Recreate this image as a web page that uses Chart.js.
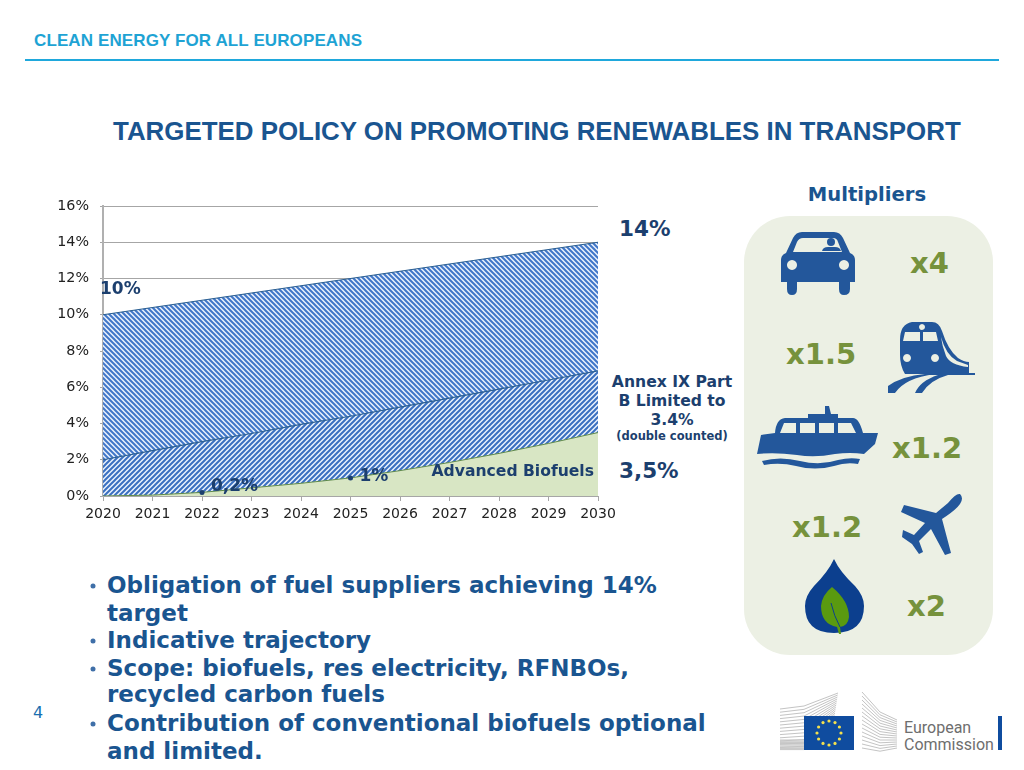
<!DOCTYPE html>
<html>
<head>
<meta charset="utf-8">
<script src="https://cdn.jsdelivr.net/npm/chart.js@4"></script>
<style>
html,body{margin:0;padding:0;background:#fff;width:1024px;height:770px;overflow:hidden}
#wrap{position:relative;width:1024px;height:770px}
canvas{position:absolute;left:0;top:0}
svg{position:absolute;left:0;top:0}
.d{font-family:"DejaVu Sans",sans-serif;font-weight:700}
.l{font-family:"Liberation Sans",sans-serif;font-weight:700}
</style>
</head>
<body>
<div id="wrap">
<svg id="back" width="1024" height="770" viewBox="0 0 1024 770">
  <rect x="25" y="59" width="974" height="2" fill="#1fa8dc"/>
  <text class="l" x="34" y="46" font-size="17" fill="#1ea3d4" textLength="328" lengthAdjust="spacing">CLEAN ENERGY FOR ALL EUROPEANS</text>
  <text class="l" x="113" y="140" font-size="25.9" fill="#1a5590">TARGETED POLICY ON PROMOTING RENEWABLES IN TRANSPORT</text>
  <text class="d" x="867" y="201" font-size="19.6" fill="#1a5590" text-anchor="middle">Multipliers</text>
  <rect x="744" y="216" width="249" height="439" rx="46" fill="#ecf0e4"/>

  <!-- car -->
  <g fill="#23579b">
    <path fill-rule="evenodd" d="M802,232 H834 Q840,232 843,238 L850,253 Q855,255 855,260 V282 H850 V289 Q850,295 844,295 Q839,295 839,289 V282 H797 V289 Q797,295 792,295 Q787,295 787,289 V282 H781 V260 Q781,255 786,253 L793,238 Q796,232 802,232 Z M803,238 Q799,238 797,242 L793,252 H842 L838,242 Q837,238 833,238 Z M792,260 a5,5 0 1,0 0.01,0 Z M844,260 a5,5 0 1,0 0.01,0 Z"/>
    <circle cx="831" cy="242" r="4"/>
    <path d="M822,251 Q823,247 828,247 H835 Q840,247 841,251 Z"/>
  </g>
  <!-- train -->
  <g fill="#23579b">
    <path fill-rule="evenodd" d="M912,322 H932 Q939,322 942,331 Q948,350 958,358 Q964,362 969,362 V374 H905 Q900,366 900,355 V340 Q900,324 912,322 Z M905,332 L903,341 H920 V332 Z M923,332 V341 H938 L936,332 Z M922,324 a3,3 0 1,0 .01,0 Z M907,354 a4,4 0 1,0 .01,0 Z M935,354 a4,4 0 1,0 .01,0 Z M941,337 Q946,355 957,361 L968,365 V367 Q950,365 946,356 Q942,346 941,337 Z"/>
    <rect x="927" y="373" width="48" height="2"/>
    <path d="M888,393 V386 Q902,376 925,374 L935,374 Q905,378 895,393 Z"/>
    <path d="M915,393 Q920,381 938,375 L948,375 Q930,380 922,393 Z"/>
  </g>
  <!-- ship -->
  <g fill="#23579b">
    <path fill-rule="evenodd" d="M825,406 L829,406 L831,414 H838 V418 H853 Q859,418 863,433 H878 L875,444 L864,454 Q850,452 835,454 Q815,458 797,455 Q775,452 757,454 L761,435 L775,433 Q776,419 785,418 H808 V414 H825 Z M784,423 L780,433 H796 V423 Z M800,423 V433 H815 V423 Z M819,423 V433 H834 V423 Z M838,423 V433 H856 L851,423 Z"/>
    <path d="M762,461 Q780,456 800,461 Q820,466 838,460 Q850,457 860,459 L858,464 Q846,462 834,466 Q815,471 796,466 Q780,462 764,465 Z"/>
  </g>
  <!-- plane -->
  <path fill="#23579b" d="M960,494 Q964,498 960,504 Q956,510 942,519 L951,553 L945,555 L931,529 L919,541 L923,552 L919,554 L912,544 L902,537 L903,530 L914,535 L925,523 L901,512 L904,505 L936,513 L948,503 Q956,493 960,494 Z"/>
  <!-- drop -->
  <path fill="#0c3f8e" d="M834,559 Q840,572 855,586 Q864,596 864,606 Q864,633 834,633 Q805,633 805,606 Q805,596 814,586 Q828,572 834,559 Z"/>
  <path fill="#5a9a10" d="M832,587 Q849,601 849,617 Q848,626 840,627 L841,634 L839,634 L837,627 Q821,624 821,606 Q822,595 832,587 Z"/>
  <path stroke="#0c3f8e" stroke-width="1" fill="none" d="M831,603 Q834,616 840,627"/>

  <!-- logo -->
  <g id="logo"></g>
  <rect x="804" y="716" width="50" height="34" fill="#0f4c9f"/>
  <g id="stars"></g>
  <text x="904" y="733" font-family="Roboto,sans-serif" font-size="16" fill="#6e6e6e">European</text>
  <text x="904" y="750" font-family="Roboto,sans-serif" font-size="16" fill="#6e6e6e">Commission</text>
  <rect x="998" y="716" width="4" height="34" fill="#0f4c9f"/>

  <!-- chart side text -->
  <g class="d" fill="#1c3f6e">
    <text x="619" y="236" font-size="21.5">14%</text>
    <text x="619" y="478" font-size="21.5">3,5%</text>
    <text x="672" y="387" font-size="15.6" text-anchor="middle">Annex IX Part</text>
    <text x="672" y="406" font-size="15.6" text-anchor="middle">B Limited to</text>
    <text x="672" y="425" font-size="15.6" text-anchor="middle">3.4%</text>
    <text x="672" y="440" font-size="11.5" text-anchor="middle">(double counted)</text>
  </g>

  <!-- multipliers -->
  <g class="d" fill="#76923c" font-size="29">
    <text x="910" y="273">x4</text>
    <text x="786" y="364">x1.5</text>
    <text x="892" y="458">x1.2</text>
    <text x="792" y="537">x1.2</text>
    <text x="907" y="616">x2</text>
  </g>

  <!-- bullets -->
  <g class="d" fill="#1a5590" font-size="23">
    <text x="107" y="593">Obligation of fuel suppliers achieving 14%</text>
    <text x="107" y="621">target</text>
    <text x="107" y="648">Indicative trajectory</text>
    <text x="107" y="676">Scope: biofuels, res electricity, RFNBOs,</text>
    <text x="107" y="702">recycled carbon fuels</text>
    <text x="107" y="731">Contribution of conventional biofuels optional</text>
    <text x="107" y="759">and limited.</text>
  </g>
  <g fill="#3f6fa8">
    <circle cx="93" cy="586" r="2.5"/><circle cx="93" cy="641" r="2.5"/><circle cx="93" cy="669" r="2.5"/><circle cx="93" cy="724" r="2.5"/>
  </g>
  <text x="33" y="718" font-family="'DejaVu Sans',sans-serif" font-size="16" fill="#1a6fb0">4</text>
</svg>
<canvas id="c" width="1024" height="770"></canvas>
</div>
<script>
const years = ['2020','2021','2022','2023','2024','2025','2026','2027','2028','2029','2030'];
const advancedBiofuels = [0,0.05,0.2,0.45,0.7,1,1.4,1.85,2.35,2.9,3.5];
const annexIXPartB = [2,2.5,3,3.45,3.95,4.4,4.9,5.4,5.9,6.4,6.9];
const totalTarget = [10,10.4,10.8,11.2,11.6,12,12.4,12.8,13.2,13.6,14];
const milestones = [null,null,0.2,null,null,1,null,null,null,null,null];
const yTicks = [0,2,4,6,8,10,12,14,16];
const pointLabels = [
  {year:'2020', value:10, text:'10%'},
  {year:'2022', value:0.2, text:'0,2%'},
  {year:'2025', value:1, text:'1%'}
];

function hatch(dir, fg, bg){
  const s = 5, t = document.createElement('canvas');
  t.width = s; t.height = s;
  const g = t.getContext('2d');
  g.fillStyle = bg; g.fillRect(0,0,s,s);
  g.strokeStyle = fg; g.lineWidth = 2; g.lineCap = 'square';
  for (let i = -s; i <= s; i += s) {
    g.beginPath();
    if (dir > 0) { g.moveTo(i,s); g.lineTo(i+s,0); }
    else { g.moveTo(i,0); g.lineTo(i+s,s); }
    g.stroke();
  }
  return document.getElementById('c').getContext('2d').createPattern(t,'repeat');
}

const labelPlugin = {
  id:'labelPlugin',
  afterDatasetsDraw(chart){
    const {ctx, scales:{x,y}} = chart;
    const offs = {'10%':[-3,-25],'0,2%':[9,-6],'1%':[9,-1]};
    ctx.save();
    ctx.fillStyle = '#1c3f6e';
    ctx.textBaseline = 'middle';
    ctx.textAlign = 'left';
    ctx.font = 'bold 17px "DejaVu Sans"';
    pointLabels.forEach(p=>{
      const o = offs[p.text];
      ctx.fillText(p.text, x.getPixelForValue(years.indexOf(p.year))+o[0], y.getPixelForValue(p.value)+o[1]);
    });
    ctx.font = 'bold 15.6px "DejaVu Sans"';
    ctx.textAlign = 'right';
    ctx.fillText('Advanced Biofuels', 594, 472);
    ctx.restore();
  }
};

new Chart(document.getElementById('c'), {
  type:'line',
  data:{
    labels:years,
    datasets:[
      {label:'Advanced Biofuels', data:advancedBiofuels, borderColor:'#5f8a4a', borderWidth:1, backgroundColor:'#d8e6c4', fill:'origin', pointRadius:0, tension:0},
      {label:'Annex IX Part B', data:annexIXPartB, borderColor:'#2b5f92', borderWidth:1.2, backgroundColor:hatch(1,'#3a6fc0','#eaf2fd'), fill:'-1', pointRadius:0, tension:0},
      {label:'Target', data:totalTarget, borderColor:'#2b5f92', borderWidth:1.2, backgroundColor:hatch(-1,'#4076c8','#eaf2fd'), fill:'-1', pointRadius:0, tension:0},
      {label:'Milestones', data:milestones, order:-1, showLine:false, fill:false, pointRadius:2.5, pointBackgroundColor:'#1c3f6e', pointBorderWidth:0}
    ]
  },
  options:{
    responsive:false, animation:false,
    layout:{padding:{left:0,right:426,top:206,bottom:244}},
    plugins:{legend:{display:false},tooltip:{enabled:false}},
    scales:{
      x:{
        offset:false,
        grid:{drawOnChartArea:false,color:'#a6a6a6',tickLength:5,lineWidth:1},
        border:{color:'#a6a6a6',width:1},
        ticks:{color:'#222',font:{family:'"DejaVu Sans"',size:14},padding:5,maxRotation:0,autoSkip:false},
        afterFit(s){s.height=30;}
      },
      y:{
        min:0,max:16,
        afterBuildTicks(s){s.ticks=yTicks.map(v=>({value:v}));},
        grid:{color:'#a6a6a6',lineWidth:1,tickLength:3},
        border:{color:'#b0b0b0',width:2},
        ticks:{color:'#222',font:{family:'"DejaVu Sans"',size:14.3},padding:11,callback:v=>v+'%'},
        afterFit(s){s.width=103;}
      }
    }
  },
  plugins:[labelPlugin]
});

/* decorative logo strokes */
const NS='http://www.w3.org/2000/svg';
const logo=document.getElementById('logo');
function ln(x1,y1,x2,y2){const l=document.createElementNS(NS,'line');l.setAttribute('x1',x1);l.setAttribute('y1',y1);l.setAttribute('x2',x2);l.setAttribute('y2',y2);l.setAttribute('stroke','#c4c4c4');l.setAttribute('stroke-width','1');logo.appendChild(l);}
for(let i=0;i<13;i++){const y=709+i*3.2;ln(780,y,804,y-3+i*0.15);ln(804,y-3+i*0.15,838-i*0.3,693+i*2);}
for(let i=0;i<9;i++){ln(780,740+i*1.2,804,740+i*1.2);}
for(let i=0;i<15;i++){ln(862,692+i*4,880,712+i*2.8);ln(880,712+i*2.8,897,720+i*2);}
const st=document.getElementById('stars');
for(let i=0;i<12;i++){const a=i*Math.PI/6;const c=document.createElementNS(NS,'circle');c.setAttribute('cx',829+12*Math.sin(a));c.setAttribute('cy',733-12*Math.cos(a));c.setAttribute('r',1.6);c.setAttribute('fill','#f4e04d');st.appendChild(c);}
</script>
</body>
</html>
